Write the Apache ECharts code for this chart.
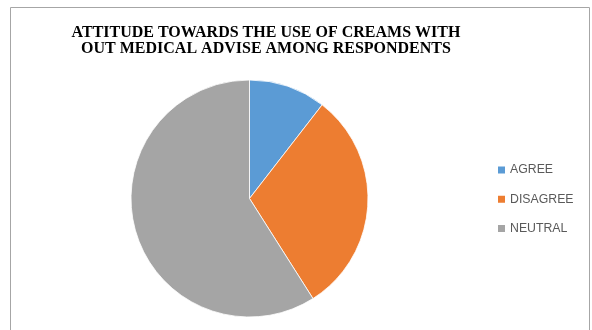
<!DOCTYPE html>
<html>
<head>
<meta charset="utf-8">
<script src="https://cdn.jsdelivr.net/npm/echarts@6/dist/echarts.min.js"></script>
<style>
  html, body { margin: 0; padding: 0; background: #fff; }
  #main { width: 592px; height: 330px; }
</style>
</head>
<body>
<div id="main"></div>
<script>
// responses (share of respondents, %)
var categories = ["AGREE", "DISAGREE", "NEUTRAL"];
var values = [10.5, 30.5, 59];
var colors = ["#5B9BD5", "#ED7D31", "#A5A5A5"];

var chart = echarts.init(document.getElementById("main"));
var option = {
  animation: false,
  title: {
    text: "ATTITUDE TOWARDS THE USE OF CREAMS WITH\nOUT MEDICAL ADVISE AMONG RESPONDENTS",
    left: 266,
    top: 25,
    padding: 0,
    textAlign: "center",
    textStyle: {
      fontFamily: "'Liberation Serif', 'Times New Roman', serif",
      fontWeight: "bold",
      fontSize: 16,
      lineHeight: 16,
      color: "#000"
    }
  },
  legend: {
    orient: "vertical",
    left: 496,
    top: 164,
    padding: 0,
    itemWidth: 9,
    itemHeight: 9,
    itemGap: 17.3,
    icon: "rect",
    textStyle: {
      fontFamily: "'Liberation Sans', Arial, sans-serif",
      fontSize: 12.3,
      color: "#595959",
      padding: [0, 0, 0, -1]
    },
    data: categories
  },
  graphic: [{
    type: "rect",
    shape: { x: 10.5, y: 7.5, width: 579, height: 400 },
    style: { fill: "none", stroke: "#a6a6a6", lineWidth: 1 },
    silent: true
  }],
  series: [{
    type: "pie",
    center: [249.5, 198.5],
    radius: 118.5,
    startAngle: 90,
    clockwise: true,
    label: { show: false },
    labelLine: { show: false },
    itemStyle: { borderColor: "#fff", borderWidth: 0.8 },
    data: categories.map(function (c, i) {
      return { name: c, value: values[i], itemStyle: { color: colors[i] } };
    })
  }]
};
chart.setOption(option);
</script>
</body>
</html>
